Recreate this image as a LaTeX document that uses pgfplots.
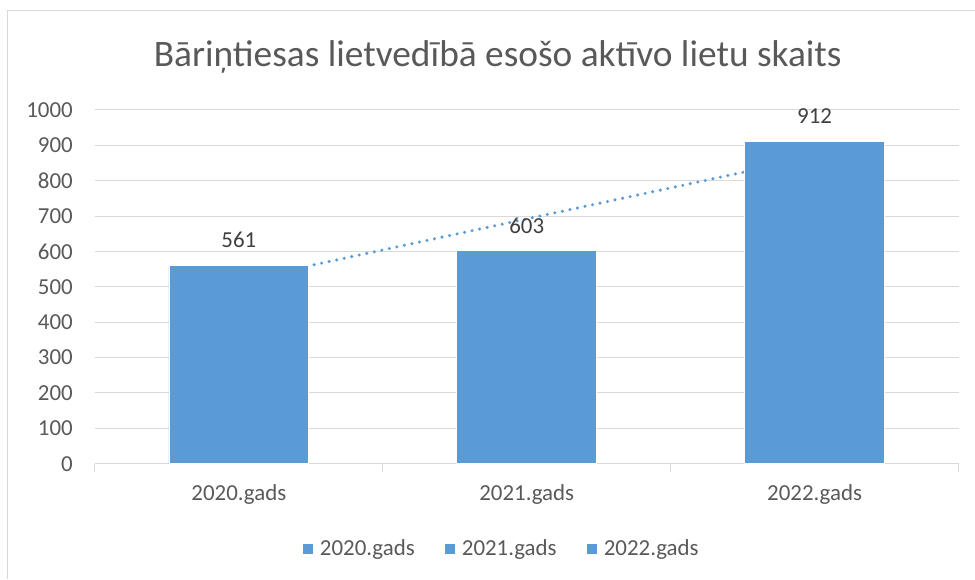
\documentclass[border=0pt]{standalone}
\usepackage{fontspec}
\setmainfont{Carlito}
\usepackage{pgfplots}
\pgfplotsset{compat=1.18}
\definecolor{barblue}{HTML}{5B9BD5}
\definecolor{txtgray}{HTML}{595959}
\definecolor{lblgray}{HTML}{404040}
\definecolor{gridgray}{HTML}{D9D9D9}

\begin{document}
\begin{tikzpicture}[x=1bp,y=1bp]
\path (0,0) rectangle (975,579);
% chart frame
\draw[gridgray, line width=1bp] (7.5,0) -- (7.5,568) -- (975,568);
\node[txtgray, font=\fontsize{37.5}{44}\selectfont] at (498,522) {Bāriņtiesas lietvedībā esošo aktīvo lietu skaits};
\begin{axis}[
  at={(95bp,115bp)}, anchor=south west,
  scale only axis, width=864bp, height=354bp,
  xmin=-0.5, xmax=2.5, ymin=0, ymax=1000,
  axis lines*=left,
  y axis line style={draw=none},
  x axis line style={gridgray, line width=1bp},
  ytick={0,100,...,1000},
  ymajorgrids,
  major grid style={gridgray, line width=1bp},
  xtick={0,1,2},
  xticklabels={2020.gads,2021.gads,2022.gads},
  major tick length=0pt,
  extra x ticks={-0.5,0.5,1.5,2.5},
  extra x tick labels={},
  extra x tick style={major tick length=8bp, tick align=outside, tick style={gridgray, line width=1bp}, grid=none},
  ticklabel style={font=\fontsize{23}{28}\selectfont, text=txtgray},
  yticklabel style={inner sep=0pt, anchor=east, xshift=-22bp},
  xticklabel style={inner sep=0pt, anchor=north, yshift=-21bp},
  /pgf/number format/.cd, 1000 sep={}, assume math mode=true,
  /pgfplots/.cd,
  legend entries={2020.gads,2021.gads,2022.gads},
  legend columns=3,
  legend style={at={(0.471,-0.240)}, anchor=center, draw=none, fill=none,
    font=\fontsize{23}{28}\selectfont, text=txtgray,
    /tikz/every even column/.append style={column sep=28bp}},
  legend image code/.code={\fill[barblue] (0bp,-4.5bp) rectangle (9bp,4.5bp); \path[draw=none, fill=none] (0bp,0bp) rectangle (15bp,0bp);},
]
% linear trend line (drawn behind the bars)
\addplot[barblue, line width=3.4bp, line cap=round, dash pattern=on 0pt off 7.7bp, forget plot]
  coordinates {(0,516.5) (1,692) (2,867.5)};
\addplot[ybar, bar width=140bp, bar shift=0pt, fill=barblue, draw=white, line width=0.75bp,
  nodes near coords,
  every node near coord/.append style={font=\fontsize{23}{28}\selectfont, text=lblgray, anchor=center, yshift=25bp},
  forget plot]
  coordinates {(0,561) (1,603) (2,912)};
\addlegendimage{barblue}
\addlegendimage{barblue}
\addlegendimage{barblue}
\end{axis}
\end{tikzpicture}
\end{document}
